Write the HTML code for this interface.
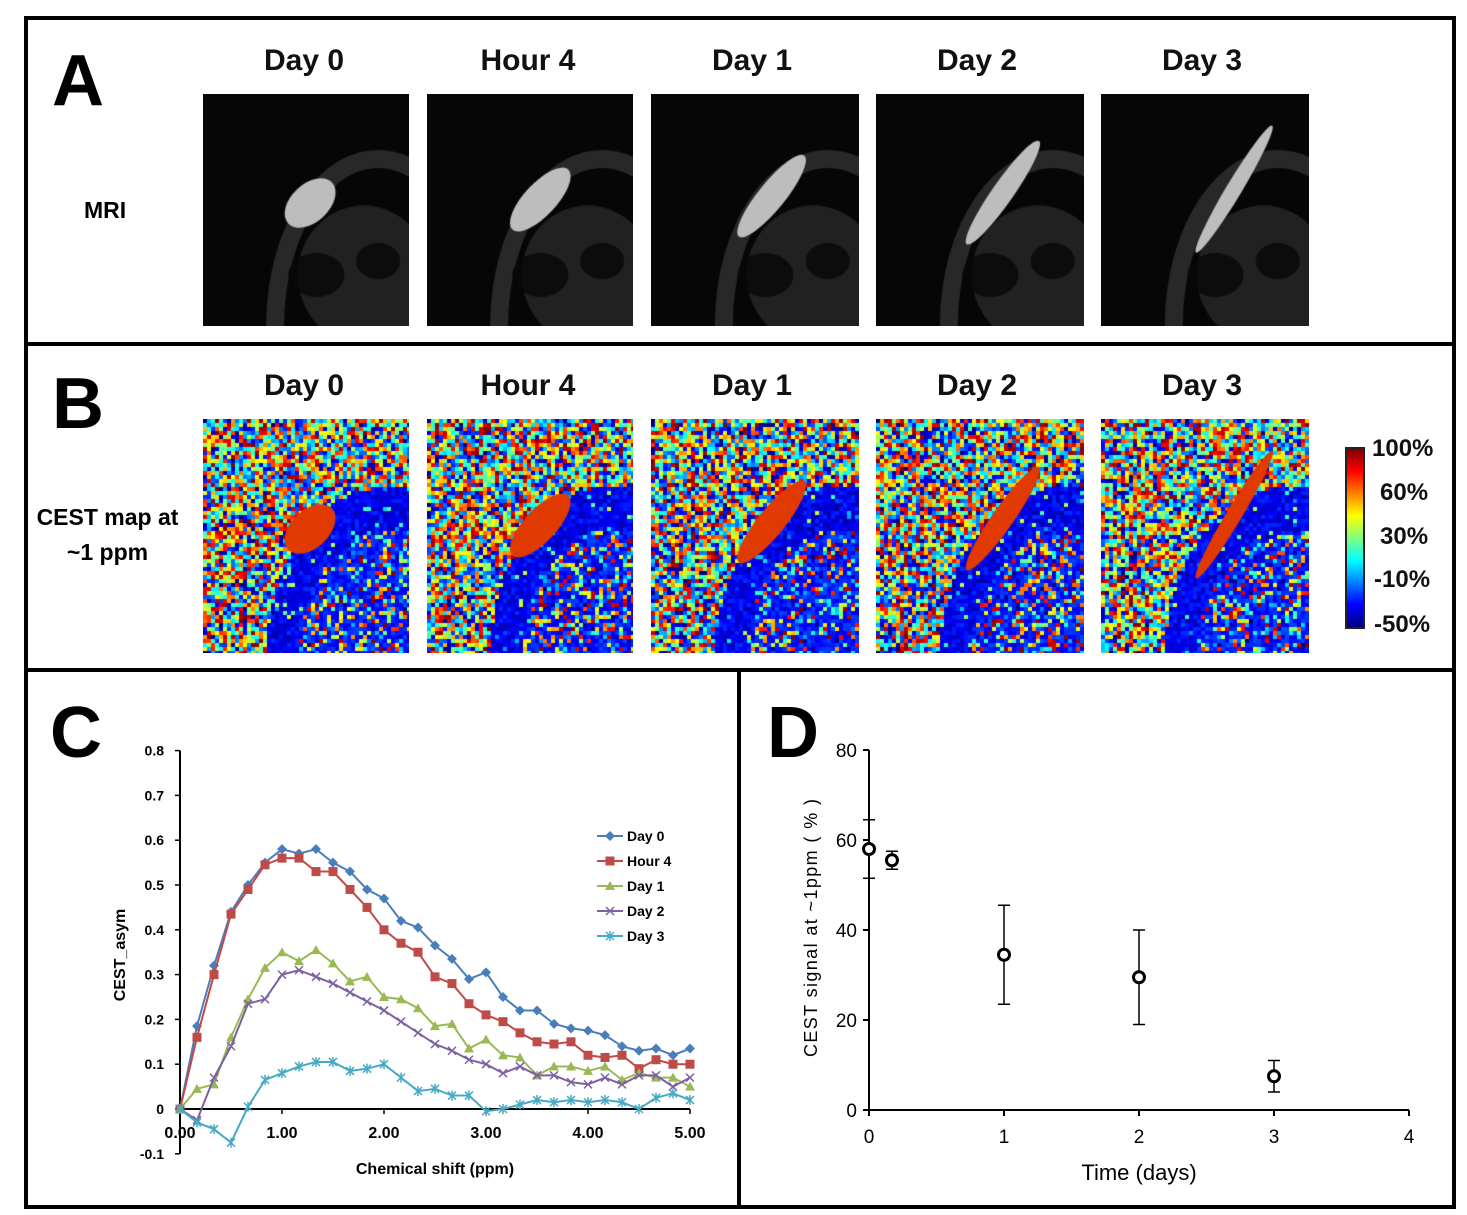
<!DOCTYPE html>
<html><head><meta charset="utf-8">
<style>
html,body{margin:0;padding:0;background:#fff;}
body{width:1467px;height:1215px;position:relative;overflow:hidden;font-family:"Liberation Sans","DejaVu Sans",sans-serif;}
.abs{position:absolute;}
.ttl{position:absolute;font-weight:bold;font-size:30px;width:206px;text-align:center;color:#111;}
.big{position:absolute;font-weight:bold;font-size:72px;color:#000;line-height:1;}
canvas{position:absolute;}
.cb{position:absolute;font-weight:bold;font-size:24px;color:#111;}
</style></head><body>
<div class="abs" style="left:24px;top:16px;width:1424px;height:1185px;border:4px solid #000;"></div>
<div class="abs" style="left:24px;top:342px;width:1432px;height:4px;background:#000;"></div>
<div class="abs" style="left:24px;top:668px;width:1432px;height:4px;background:#000;"></div>
<div class="abs" style="left:737px;top:668px;width:4px;height:537px;background:#000;"></div>

<div class="big" style="left:52px;top:45px;">A</div>
<div class="big" style="left:52px;top:368px;">B</div>
<div class="big" style="left:50px;top:697px;">C</div>
<div class="big" style="left:767px;top:697px;">D</div>
<div class="abs" style="left:84px;top:197px;font-weight:bold;font-size:23px;">MRI</div>
<div class="abs" style="left:30px;top:500px;width:155px;text-align:center;font-weight:bold;font-size:23px;line-height:35px;">CEST map at<br>~1 ppm</div>

<div id="imgs"></div>

<div class="abs" style="left:1345px;top:447px;width:16px;height:178px;border:2px solid #222;background:linear-gradient(to bottom,#800000,#ff0000,#ff8000,#ffff00,#80ff80,#00ffff,#0080ff,#0000ff,#000080);"></div>
<div class="cb" style="left:1372px;top:435px;">100%</div>
<div class="cb" style="left:1380px;top:479px;">60%</div>
<div class="cb" style="left:1380px;top:523px;">30%</div>
<div class="cb" style="left:1374px;top:566px;">-10%</div>
<div class="cb" style="left:1374px;top:611px;">-50%</div>

<svg id="chartC" class="abs" style="left:0;top:0" width="1467" height="1215"></svg>

<script>
// ---- Chart C data ----
const xsC = [0,1/6,2/6,3/6,4/6,5/6,1,7/6,8/6,9/6,10/6,11/6,2,13/6,14/6,15/6,16/6,17/6,3,19/6,20/6,21/6,22/6,23/6,4,25/6,26/6,27/6,28/6,29/6,5];
const day0 = [0,0.185,0.32,0.44,0.50,0.55,0.58,0.57,0.58,0.55,0.53,0.49,0.47,0.42,0.405,0.365,0.335,0.29,0.305,0.25,0.22,0.22,0.19,0.18,0.175,0.165,0.14,0.13,0.135,0.12,0.135];
const hour4 = [0,0.16,0.30,0.435,0.49,0.545,0.56,0.56,0.53,0.53,0.49,0.45,0.40,0.37,0.35,0.295,0.28,0.235,0.21,0.195,0.17,0.15,0.145,0.15,0.12,0.115,0.12,0.09,0.11,0.10,0.10];
const day1 = [0,0.045,0.055,0.16,0.245,0.315,0.35,0.33,0.355,0.325,0.285,0.295,0.25,0.245,0.225,0.185,0.19,0.135,0.155,0.12,0.115,0.075,0.095,0.095,0.085,0.095,0.065,0.08,0.07,0.07,0.05];
const day2 = [0,-0.025,0.07,0.14,0.235,0.245,0.30,0.31,0.295,0.28,0.26,0.24,0.22,0.195,0.17,0.145,0.13,0.11,0.10,0.08,0.095,0.075,0.075,0.06,0.055,0.07,0.055,0.075,0.075,0.05,0.07];
const day3 = [0,-0.03,-0.045,-0.075,0.005,0.065,0.08,0.095,0.105,0.105,0.085,0.09,0.10,0.07,0.04,0.045,0.03,0.03,-0.005,0,0.01,0.02,0.015,0.02,0.015,0.02,0.015,0,0.025,0.035,0.02];
const yTicksC = [0.8,0.7,0.6,0.5,0.4,0.3,0.2,0.1,0,-0.1];
const yTickLabelsC = ["0.8","0.7","0.6","0.5","0.4","0.3","0.2","0.1","0","-0.1"];
const xTicksC = [0,1,2,3,4,5];
const xTickLabelsC = ["0.00","1.00","2.00","3.00","4.00","5.00"];
const seriesNames = ["Day 0","Hour 4","Day 1","Day 2","Day 3"];
// ---- Chart D data ----
const timeD = [0,0.17,1,2,3];
const meanD = [58,55.5,34.5,29.5,7.5];
const errD = [6.5,2,11,10.5,3.5];
const yTicksD = [0,20,40,60,80];
const xTicksD = [0,1,2,3,4];

const NS="http://www.w3.org/2000/svg";
const svg=document.getElementById('chartC');
function mk(tag,attrs,name,parent){const e=document.createElementNS(NS,tag);for(const k in attrs)e.setAttribute(k,attrs[k]);


(parent||svg).appendChild(e);return e;}
function txt(s,x,y,attrs,name){const t=mk('text',Object.assign({x:x,y:y,'font-family':'Liberation Sans, sans-serif','font-weight':'bold'},attrs),name);t.textContent=s;return t;}

// Chart C axes
const cx=v=>180+v*102, cy=v=>1109-v*448;
mk('line',{x1:180,y1:cy(0.8),x2:180,y2:cy(-0.1),stroke:'#000','stroke-width':2},'c-y-axis');
mk('line',{x1:180,y1:cy(0),x2:cx(5),y2:cy(0),stroke:'#000','stroke-width':2},'c-x-axis');
yTicksC.forEach((v,i)=>{mk('line',{x1:175,y1:cy(v),x2:180,y2:cy(v),stroke:'#000','stroke-width':1.5},'c-y-tick');
 txt(yTickLabelsC[i],164,cy(v)+5,{'font-size':14,'text-anchor':'end'},'c-y-tick-label');});
xTicksC.forEach((v,i)=>{mk('line',{x1:cx(v),y1:cy(0),x2:cx(v),y2:cy(0)+5,stroke:'#000','stroke-width':1.5},'c-x-tick');
 txt(xTickLabelsC[i],cx(v),1138,{'font-size':16,'text-anchor':'middle'},'c-x-tick-label');});
txt('Chemical shift (ppm)',435,1174,{'font-size':16,'text-anchor':'middle'},'c-x-axis-title');
txt('CEST_asym',125,955,{'font-size':16,'text-anchor':'middle',transform:'rotate(-90 125 955)'},'c-y-axis-title');

const cols=['#4a7ebb','#be4b48','#98b954','#7d60a0','#46aac5'];
const data=[day0,hour4,day1,day2,day3];
function marker(k,x,y,g){
 const c=cols[k];
 if(k===0) mk('polygon',{points:`${x},${y-5} ${x+5},${y} ${x},${y+5} ${x-5},${y}`,fill:c},'marker-diamond',g);
 else if(k===1) mk('rect',{x:x-4.5,y:y-4.5,width:9,height:9,fill:c},'marker-square',g);
 else if(k===2) mk('polygon',{points:`${x},${y-5} ${x+5},${y+4} ${x-5},${y+4}`,fill:c},'marker-triangle',g);
 else if(k===3){mk('path',{d:`M${x-4} ${y-4}L${x+4} ${y+4}M${x-4} ${y+4}L${x+4} ${y-4}`,stroke:c,'stroke-width':1.5},'marker-x',g);}
 else {mk('path',{d:`M${x-4} ${y-4}L${x+4} ${y+4}M${x-4} ${y+4}L${x+4} ${y-4}M${x} ${y-5}L${x} ${y+5}`,stroke:c,'stroke-width':1.5},'marker-star',g);}
}
data.forEach((arr,k)=>{
 const g=mk('g',{},'series-'+seriesNames[k].toLowerCase().replace(' ','-'));
 mk('polyline',{points:arr.map((v,i)=>cx(xsC[i])+','+cy(v)).join(' '),fill:'none',stroke:cols[k],'stroke-width':2},'series-line',g);
 arr.forEach((v,i)=>marker(k,cx(xsC[i]),cy(v),g));
 const ly=836+k*25;
 const lg=mk('g',{},'legend-entry');
 mk('line',{x1:597,y1:ly,x2:623,y2:ly,stroke:cols[k],'stroke-width':2},'legend-line',lg);
 marker(k,610,ly,lg);
 txt(seriesNames[k],627,ly+5,{'font-size':14},'legend-label');
});

// Chart D
const dx=v=>869+v*135, dy=v=>1110-v*4.5;
mk('line',{x1:dx(0),y1:dy(0),x2:dx(0),y2:dy(80),stroke:'#000','stroke-width':2},'d-y-axis');
mk('line',{x1:dx(0),y1:dy(0),x2:dx(4),y2:dy(0),stroke:'#000','stroke-width':2},'d-x-axis');
yTicksD.forEach(v=>{mk('line',{x1:dx(0)-6,y1:dy(v),x2:dx(0),y2:dy(v),stroke:'#000','stroke-width':2},'d-y-tick');
 txt(String(v),dx(0)-12,dy(v)+7,{'font-size':19,'font-weight':'normal','text-anchor':'end'},'d-y-tick-label');});
xTicksD.forEach(v=>{mk('line',{x1:dx(v),y1:dy(0),x2:dx(v),y2:dy(0)+6,stroke:'#000','stroke-width':2},'d-x-tick');
 txt(String(v),dx(v),1143,{'font-size':19,'font-weight':'normal','text-anchor':'middle'},'d-x-tick-label');});
txt('Time (days)',1139,1180,{'font-size':22,'font-weight':'normal','text-anchor':'middle'},'d-x-axis-title');
txt('CEST signal at ~1ppm ( % )',817,928,{'font-size':18,'font-weight':'normal','text-anchor':'middle','textLength':258,transform:'rotate(-90 817 928)'},'d-y-axis-title');
timeD.forEach((t,i)=>{
 const x=dx(t),y=dy(meanD[i]),y1=dy(meanD[i]+errD[i]),y2=dy(meanD[i]-errD[i]);
 const g=mk('g',{},'d-point');
 mk('line',{x1:x,y1:y1,x2:x,y2:y2,stroke:'#000','stroke-width':1.5},'error-bar',g);
 mk('line',{x1:x-6,y1:y1,x2:x+6,y2:y1,stroke:'#000','stroke-width':1.5},'error-cap',g);
 mk('line',{x1:x-6,y1:y2,x2:x+6,y2:y2,stroke:'#000','stroke-width':1.5},'error-cap',g);
 mk('circle',{cx:x,cy:y,r:5.5,fill:'#fff',stroke:'#000','stroke-width':3},'data-point',g);
});

// ---- Images ----
const xs=[203,427,651,876,1101], ws=[206,206,208,208,208];
const titles=['Day 0','Hour 4','Day 1','Day 2','Day 3'];
const host=document.getElementById('imgs');
function rnd(seed){let s=seed;return()=>{s=(s*16807)%2147483647;return s/2147483647;};}
function jet(v){v=Math.max(0,Math.min(1,v));const r=Math.max(0,Math.min(1,1.5-Math.abs(4*v-3))),g=Math.max(0,Math.min(1,1.5-Math.abs(4*v-2))),b=Math.max(0,Math.min(1,1.5-Math.abs(4*v-1)));return [r*255,g*255,b*255];}
function tumor(ctx,k,w,h){ctx.save();ctx.translate(w*(0.52+k*0.03),h*(0.47-k*0.015));ctx.rotate(-0.75-k*0.07);
 ctx.beginPath();ctx.ellipse(0,0,30+k*11,19-k*2.8,0,0,2*Math.PI);ctx.fill();ctx.restore();}
for(let k=0;k<5;k++){
 [60,385].forEach((ty,row)=>{
  const d=document.createElement('div');d.className='ttl';d.style.left=(xs[k]-2)+'px';d.style.top=(ty-16)+'px';d.textContent=titles[k];
  
  
  host.appendChild(d);});
 const W=ws[k];
 // MRI
 const c1=document.createElement('canvas');c1.width=W;c1.height=232;c1.style.left=xs[k]+'px';c1.style.top='94px';
 
 
 host.appendChild(c1);
 const g=c1.getContext('2d');g.fillStyle='#060606';g.fillRect(0,0,W,232);
 g.strokeStyle='rgba(70,70,70,0.55)';g.lineWidth=18;g.beginPath();g.ellipse(W*0.85,232*1.0,W*0.5,232*0.72,0,Math.PI*0.95,1.75*Math.PI);g.stroke();
 g.fillStyle='rgba(45,45,45,0.7)';g.beginPath();g.ellipse(W*0.78,232*0.78,W*0.32,232*0.3,0,0,2*Math.PI);g.fill();
 g.fillStyle='rgba(8,8,8,0.85)';g.beginPath();g.ellipse(W*0.55,232*0.78,28,22,0,0,2*Math.PI);g.fill();
 g.beginPath();g.ellipse(W*0.85,232*0.72,22,18,0,0,2*Math.PI);g.fill();
 g.fillStyle='#bdbdbd';tumor(g,k,W,232);
 // CEST
 const c2=document.createElement('canvas');c2.width=W;c2.height=234;c2.style.left=xs[k]+'px';c2.style.top='419px';
 
 
 host.appendChild(c2);
 const h=c2.getContext('2d');const R=rnd(1234+k*77);
 for(let y=0;y<234;y+=4)for(let x=0;x<W;x+=4){
  const ddx=(x-W*0.9)/(W*0.6), ddy=(y-234*1.0)/(234*0.72);
  const r=ddx*ddx+ddy*ddy;
  let v;
  if(r<0.55) v=R()<0.45?R():0.1+R()*0.1;
  else if(r<1) v=R()<0.08?R()*0.6:0.05+R()*0.12;
  else v=R();
  const c=jet(v);h.fillStyle=`rgb(${c[0]|0},${c[1]|0},${c[2]|0})`;h.fillRect(x,y,4,4);}
 h.fillStyle='#e03a00';tumor(h,k,W,234);
}
</script>
</body></html>
